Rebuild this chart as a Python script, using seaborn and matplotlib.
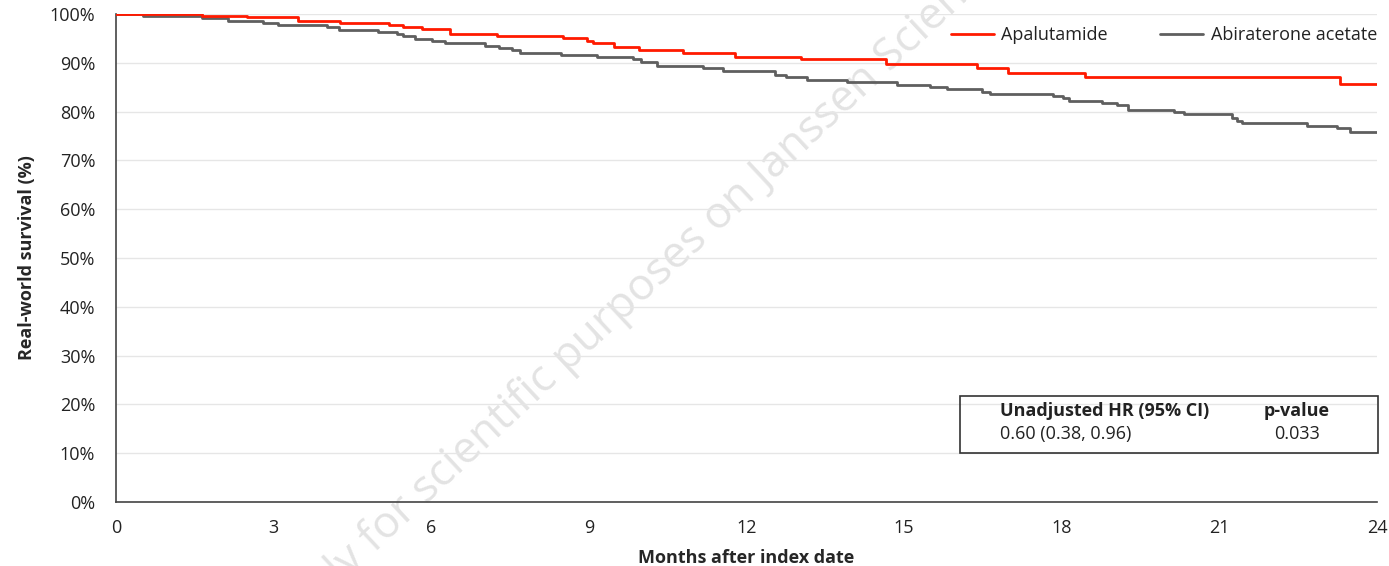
import numpy as np
import pandas as pd
import seaborn as sns
import matplotlib
matplotlib.use("Agg")
from matplotlib import pyplot as plt
from matplotlib.patches import Rectangle

# Kaplan-Meier steps (months, survival %)
apa_months = [0, 1.63, 2.5, 3.46, 4.26, 5.2, 5.46, 5.82, 6.36, 7.25, 8.51, 8.96,
              9.08, 9.47, 9.96, 10.8, 11.78, 13.03, 14.66, 16.38, 16.97, 18.45,
              23.3, 24]
apa_surv = [100, 99.65, 99.3, 98.6, 98.2, 97.7, 97.3, 96.9, 95.9, 95.5, 95.0, 94.5,
            94.0, 93.2, 92.6, 92.1, 91.2, 90.7, 89.8, 88.9, 88.0, 87.0,
            85.6, 85.6]

abi_months = [0, 0.51, 1.63, 2.13, 2.8, 3.09, 4.01, 4.24, 4.99, 5.34, 5.46, 5.69,
              6.02, 6.26, 7.02, 7.28, 7.53, 7.69, 8.47, 9.15, 9.84, 10.0, 10.29,
              11.17, 11.55, 12.54, 12.76, 13.15, 13.91, 14.86, 15.49, 15.81, 16.48,
              16.64, 17.84, 18.03, 18.13, 18.76, 19.05, 19.27, 20.13, 20.33, 21.24,
              21.33, 21.44, 22.66, 23.23, 23.49, 24]
abi_surv = [100, 99.65, 99.1, 98.6, 98.2, 97.7, 97.3, 96.8, 96.3, 95.8, 95.4, 94.9,
            94.5, 94.0, 93.5, 93.0, 92.6, 92.1, 91.6, 91.1, 90.7, 90.2, 89.3,
            88.9, 88.4, 87.6, 87.0, 86.5, 86.0, 85.5, 85.0, 84.6, 84.1,
            83.7, 83.2, 82.7, 82.2, 81.8, 81.4, 80.4, 80.0, 79.5, 78.6,
            78.1, 77.7, 77.1, 76.6, 75.8, 75.8]

arms = ["Apalutamide", "Abiraterone acetate"]
arm_colors = ["#ff1a00", "#5f5f5f"]
x_ticks = list(range(0, 25, 3))
y_ticks = list(range(0, 101, 10))

df = pd.concat([
    pd.DataFrame({"months": apa_months, "surv": apa_surv, "arm": arms[0]}),
    pd.DataFrame({"months": abi_months, "surv": abi_surv, "arm": arms[1]}),
])

sns.set_theme(style="white")
plt.rcParams["font.family"] = ["Open Sans", "DejaVu Sans"]
plt.rcParams["text.color"] = "#222222"
FS = 13

fig = plt.figure(figsize=(13.89, 5.66), dpi=100)
W, H = 1389, 566
ax = fig.add_axes([116 / W, 1 - 502 / H, (1377 - 116) / W, (502 - 14) / H])
ax.set_zorder(1)
ax.patch.set_alpha(0)

# watermark, behind the axes
fig.text(642 / W, 1 - 288 / H, "Only for scientific purposes on Janssen Science",
         rotation=43, rotation_mode="anchor", ha="center", va="center",
         fontsize=32, color="#e3e3e3", zorder=0)

ax.grid(axis="y", color="#e6e6e6", lw=1)
ax.set_axisbelow(True)

sns.lineplot(data=df, x="months", y="surv", hue="arm", hue_order=arms,
             palette=arm_colors, estimator=None, drawstyle="steps-post",
             lw=2.0, ax=ax, zorder=3)
# red on top, as in the original
ax.lines[0].set_zorder(4)

ax.set_xlim(0, 24)
ax.set_ylim(0, 100)
ax.set_xticks(x_ticks)
ax.set_yticks(y_ticks)
ax.set_yticklabels([f"{v}%" for v in y_ticks])
ax.tick_params(axis="both", which="both", direction="out", length=6, width=1,
               color="#444444", labelsize=FS, labelcolor="#222222")
ax.tick_params(axis="y", pad=9)
ax.tick_params(axis="x", pad=6)
for s in ["top", "right"]:
    ax.spines[s].set_visible(False)
for s in ["left", "bottom"]:
    ax.spines[s].set_color("#444444")
    ax.spines[s].set_linewidth(1.2)

ax.set_xlabel("Months after index date", fontsize=FS, fontweight="bold", labelpad=9)
ax.set_ylabel("Real-world survival (%)", fontsize=FS, fontweight="bold", labelpad=10)

leg = ax.legend(loc="center right", bbox_to_anchor=(1377 / W, 1 - 35 / H),
                bbox_transform=fig.transFigure, ncol=2, frameon=False,
                fontsize=FS, handlelength=2.4, handletextpad=0.4,
                columnspacing=2.9, borderpad=0, borderaxespad=0)
for h in leg.get_lines():
    h.set_linewidth(2.0)

# HR box
fig.patches.append(Rectangle((960 / W, 1 - 453 / H), 418 / W, 57 / H,
                             transform=fig.transFigure, fill=False,
                             edgecolor="#333333", lw=1.2, zorder=5))
fig.text(1000 / W, 1 - 411 / H, "Unadjusted HR (95% CI)", fontsize=FS,
         fontweight="bold", va="center", ha="left")
fig.text(1000 / W, 1 - 434 / H, "0.60 (0.38, 0.96)", fontsize=FS,
         va="center", ha="left")
fig.text(1297 / W, 1 - 411 / H, "p-value", fontsize=FS,
         fontweight="bold", va="center", ha="center")
fig.text(1297 / W, 1 - 434 / H, "0.033", fontsize=FS, va="center", ha="center")

fig.savefig("out.png", dpi=100)
